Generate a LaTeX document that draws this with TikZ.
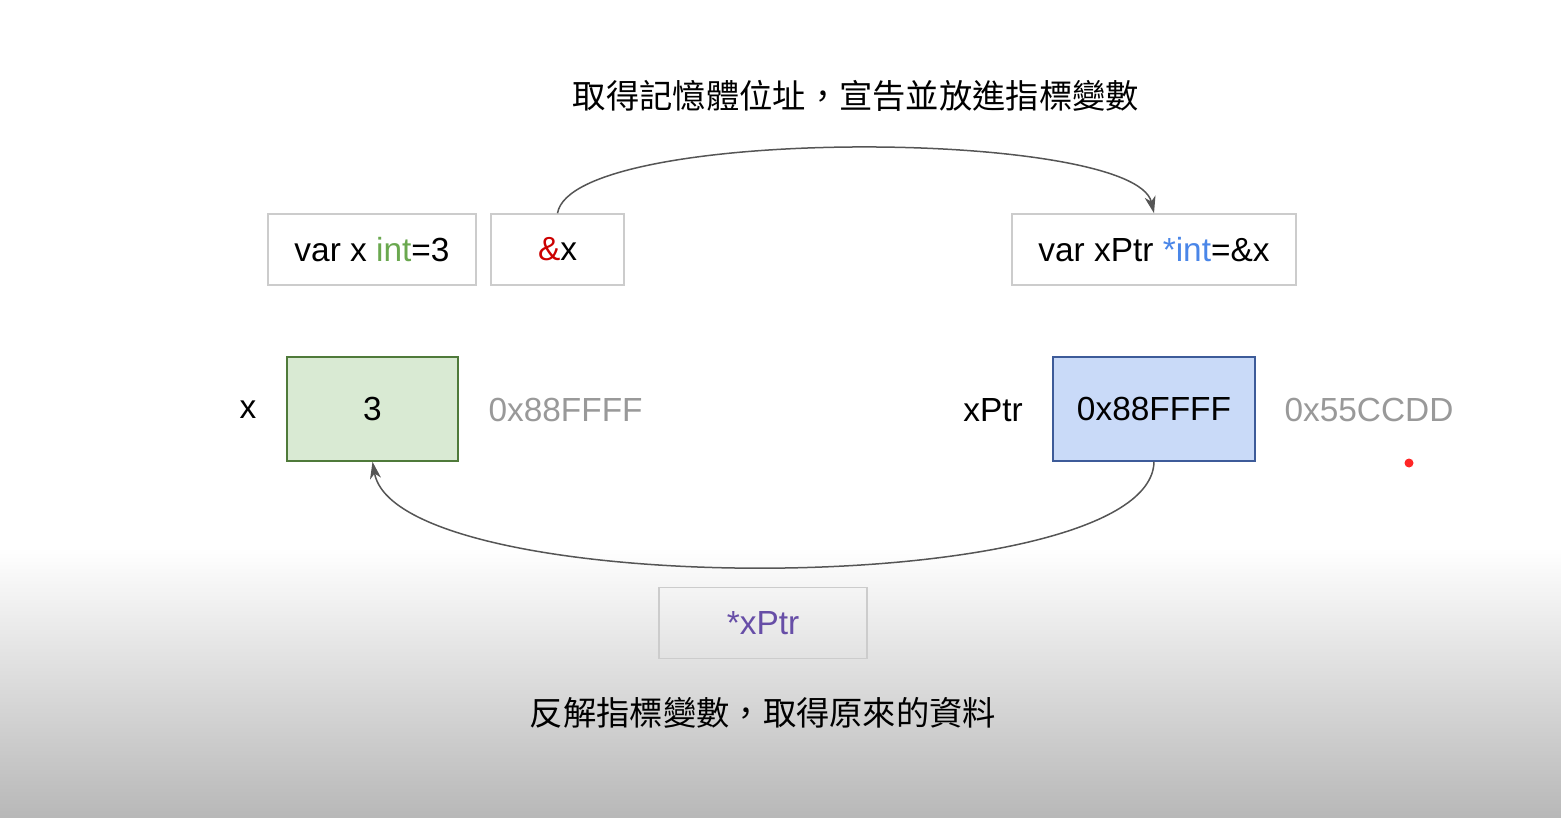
\documentclass[tikz,border=0pt]{standalone}
\usepackage{fontspec}
\setmainfont{Liberation Sans}
\newfontfamily\cjk{Noto Sans CJK TC}
\usetikzlibrary{arrows.meta}
\definecolor{intgreen}{HTML}{6AA84F}
\definecolor{ampred}{HTML}{CC0000}
\definecolor{intblue}{HTML}{4A86E8}
\definecolor{derefpurple}{HTML}{674EA7}
\definecolor{valfill}{HTML}{D9EAD3}
\definecolor{valline}{HTML}{4F7A3A}
\definecolor{ptrfill}{HTML}{C9DAF8}
\definecolor{ptrline}{HTML}{3D5B99}
\definecolor{addrgray}{HTML}{999999}
\definecolor{arcgray}{HTML}{555555}
\tikzset{
  big/.style={font=\fontsize{33.4}{40}\selectfont},
  caption/.style={font=\fontsize{33.3}{40}\selectfont\cjk},
  codebox/.style={big,draw=black!20,line width=1.5pt,inner sep=0pt,minimum height=71pt},
  cellbox/.style={big,line width=1.5pt,inner sep=0pt,minimum height=104pt},
  arc/.style={arcgray,line width=1.5pt,-{Stealth[length=17pt,width=11pt,inset=5pt]}}
}
\begin{document}
\begin{tikzpicture}[x=1pt,y=-1pt]
        \useasboundingbox (0,0) rectangle (1561,818);
        \shade[top color=white,bottom color=black!28] (0,548) rectangle (1561,818);
        % captions
        \node[caption] (toptext) at (856,96) {取得記憶體位址，宣告並放進指標變數};
        \node[caption] (bottext) at (763,713) {反解指標變數，取得原來的資料};
        % code boxes
        \node[codebox,fill=white,minimum width=208pt] (declx) at (372,249.5) {var x \textcolor{intgreen}{int}=3};
        \node[codebox,fill=white,minimum width=133pt] (amp) at (557.5,249.5) {\textcolor{ampred}{\&}x};
        \node[codebox,fill=white,minimum width=284pt] (declptr) at (1154,249.5) {var xPtr \textcolor{intblue}{*int}=\&x};
        \node[codebox,minimum width=208pt] (deref) at (763,623) {\textcolor{derefpurple}{*xPtr}};
        % memory cells
        \node[big] (xname) at (248,410) {x};
        \node[cellbox,draw=valline,fill=valfill,minimum width=171pt] (xval) at (372.5,409) {3};
        \node[big,text=addrgray,anchor=west] (xaddr) at (485,410) {0x88FFFF};
        \node[big] (ptrname) at (993,410) {xPtr};
        \node[cellbox,draw=ptrline,fill=ptrfill,minimum width=202pt] (ptrval) at (1154,409) {0x88FFFF};
        \node[big,text=addrgray,anchor=west] (ptraddr) at (1281,410) {0x55CCDD};
        \fill[red!85!white] (1409,463) circle (4.5);
        % arrows
        \draw[arc] (amp.north) .. controls +(15,-88) and +(-20,-85) .. (declptr.north);
        \draw[arc] (ptrval.south) .. controls +(-3,140) and +(25,140) .. (xval.south);
    \end{tikzpicture}
\end{document}
